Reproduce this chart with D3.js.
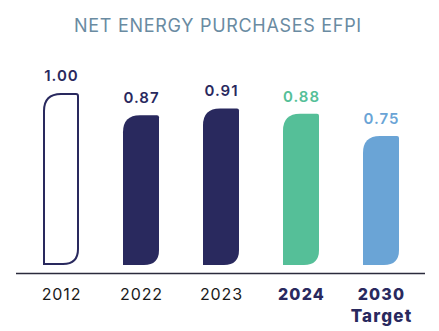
<!DOCTYPE html>
<html>
<head>
<meta charset="utf-8">
<script src="https://cdn.jsdelivr.net/npm/d3@7"></script>
<style>
  body { margin: 0; background: #fff; }
</style>
</head>
<body>
<div id="chart"></div>
<script>
// data
const years = ["2012", "2022", "2023", "2024", "2030"];
const subLabels = ["", "", "", "", "Target"];
const values = [1.00, 0.87, 0.91, 0.88, 0.75];
const valueLabels = ["1.00", "0.87", "0.91", "0.88", "0.75"];
const fills = ["none", "#29295e", "#29295e", "#55bf98", "#6aa4d6"];
const textColors = ["#29295e", "#29295e", "#29295e", "#55bf98", "#6aa4d6"];
const boldYear = [false, false, false, true, true];

const width = 439, height = 331;
const font = "Inter, 'Noto Sans', sans-serif";

const svg = d3.select("#chart").append("svg")
    .attr("width", width)
    .attr("height", height)
    .attr("font-family", font);

const x = d3.scaleBand()
    .domain(years)
    .range([21, 421])
    .paddingInner(0.55)
    .paddingOuter(0.275);

const y = d3.scaleLinear()
    .domain([0, 1])
    .range([265, 93]);

// leaf shaped bar: big round top-left, round bottom-right
function leaf(x0, y0, w, h, inset) {
    const r1 = 17, r2 = 15, r3 = 2;
    x0 += inset; y0 += inset; w -= 2 * inset; h -= 2 * inset;
    const x1 = x0 + w, y1 = y0 + h;
    return `M${x0},${y0 + r1}` +
        `Q${x0},${y0} ${x0 + r1},${y0}` +
        `L${x1 - r3},${y0}Q${x1},${y0} ${x1},${y0 + r3}` +
        `L${x1},${y1 - r2}` +
        `Q${x1},${y1} ${x1 - r2},${y1}` +
        `L${x0},${y1}Z`;
}

svg.append("text")
    .attr("x", 218)
    .attr("y", 32)
    .attr("text-anchor", "middle")
    .attr("font-size", 18)
    .attr("letter-spacing", 0.7)
    .attr("fill", "#6a8ba2")
    .text("NET ENERGY PURCHASES EFPI");

const bars = svg.selectAll("g.bar")
    .data(years)
    .join("g")
    .attr("class", "bar");

bars.append("path")
    .attr("d", (d, i) => leaf(x(d), y(values[i]), x.bandwidth(), y(0) - y(values[i]), i === 0 ? 1 : 0))
    .attr("fill", (d, i) => fills[i])
    .attr("stroke", (d, i) => i === 0 ? "#29295e" : "none")
    .attr("stroke-width", 2);

bars.append("text")
    .attr("x", d => x(d) + x.bandwidth() / 2 + 0.5)
    .attr("y", (d, i) => y(values[i]) - 12)
    .attr("text-anchor", "middle")
    .attr("font-size", 15)
    .attr("font-weight", 600)
    .attr("letter-spacing", 1)
    .attr("fill", (d, i) => textColors[i])
    .text((d, i) => valueLabels[i]);

// baseline
svg.append("line")
    .attr("x1", 16).attr("x2", 425)
    .attr("y1", 273.5).attr("y2", 273.5)
    .attr("stroke", "#2b2b3c")
    .attr("stroke-width", 1.5);

const labels = svg.selectAll("text.year")
    .data(years)
    .join("text")
    .attr("class", "year")
    .attr("x", d => x(d) + x.bandwidth() / 2 + 0.5)
    .attr("y", 300)
    .attr("text-anchor", "middle")
    .attr("font-size", 16)
    .attr("letter-spacing", (d, i) => boldYear[i] ? 1.2 : 0.9)
    .attr("font-weight", (d, i) => boldYear[i] ? 800 : 400)
    .attr("fill", (d, i) => boldYear[i] ? "#29295e" : "#1a1a1a");

labels.append("tspan").text(d => d);
labels.append("tspan")
    .attr("x", d => x(d) + x.bandwidth() / 2 + 0.5)
    .attr("dy", 22)
    .attr("font-size", 17)
    .text((d, i) => subLabels[i]);
</script>
</body>
</html>
